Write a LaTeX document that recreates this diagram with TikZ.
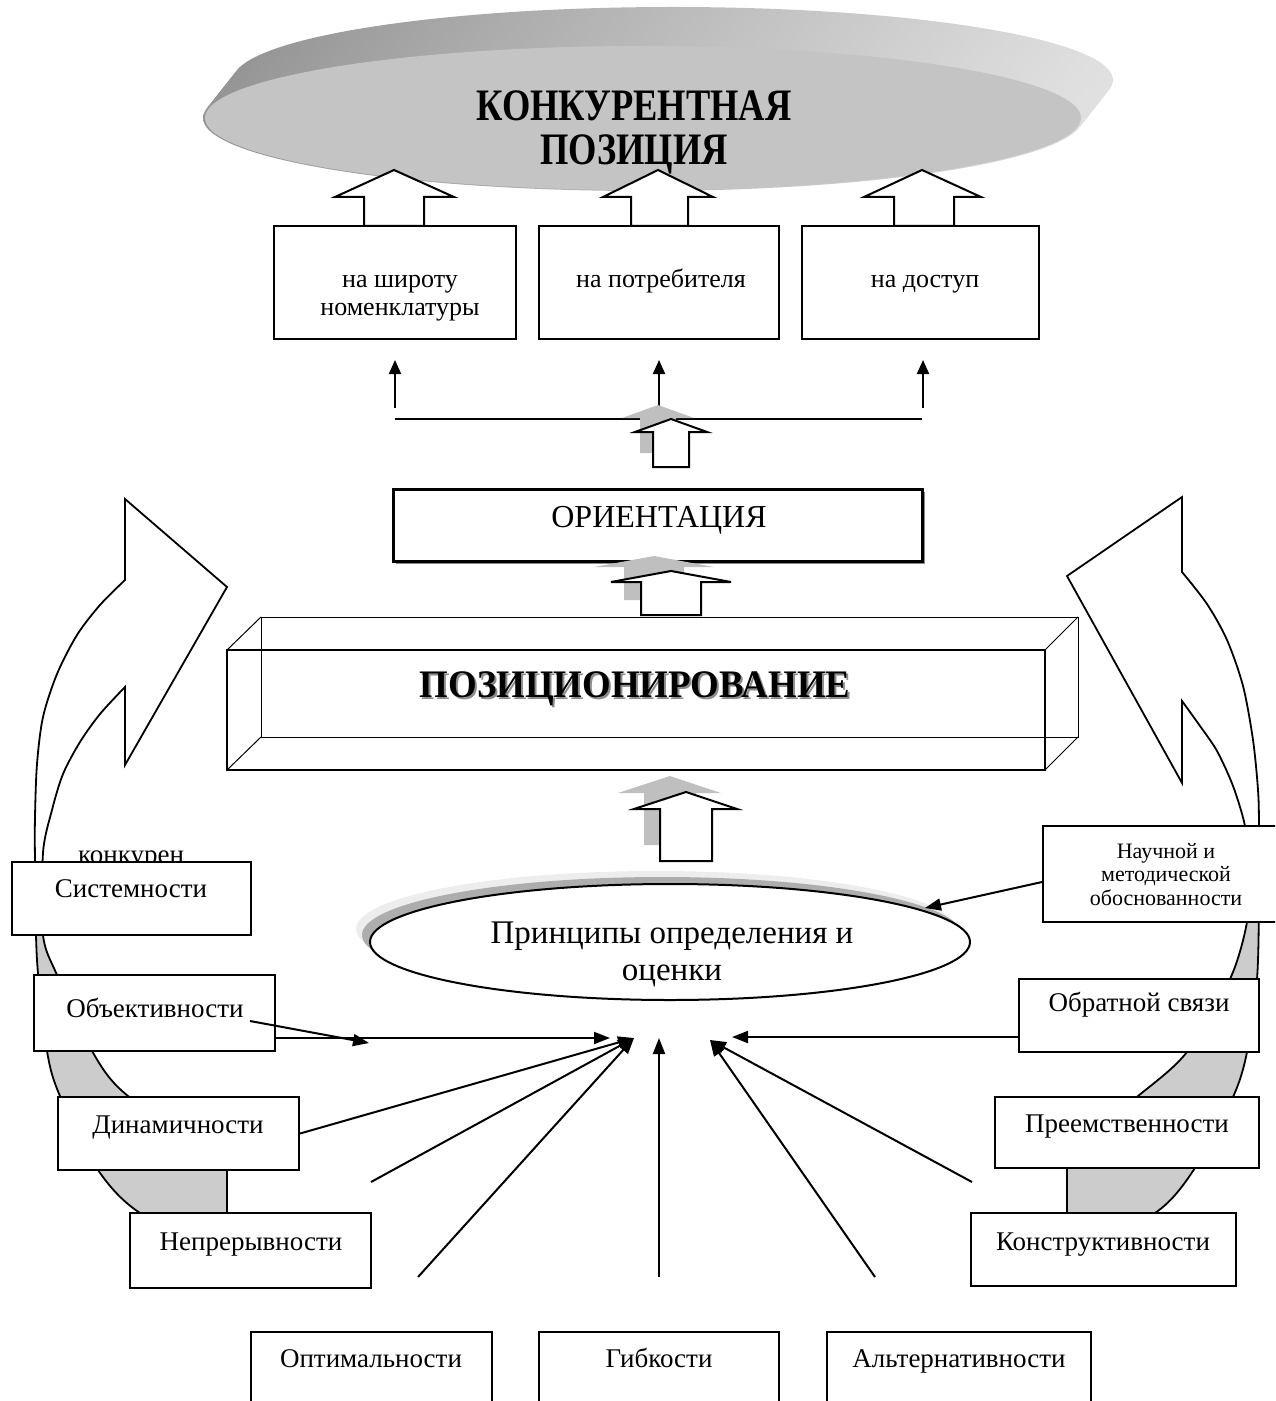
\documentclass[tikz,border=0pt]{standalone}
\usepackage{fontspec}
\setmainfont{Liberation Serif}
\newfontfamily\titlefont[FakeStretch=0.81]{Liberation Serif}
\newfontfamily\posfont[FakeStretch=0.945]{Liberation Serif}
\usetikzlibrary{arrows.meta,shapes.geometric}

\begin{document}
\begin{tikzpicture}[x=0.5pt,y=-0.5pt,
	pbox/.style={draw,fill=white,line width=1pt,inner sep=0pt},
	txt/.style={anchor=base,inner sep=0pt,font=\fontsize{13.5}{16}\selectfont},
	toptxt/.style={anchor=base,inner sep=0pt,font=\fontsize{13}{15}\selectfont},
	small/.style={anchor=base,inner sep=0pt,font=\fontsize{11}{13}\selectfont},
	conn/.style={line width=1pt,-{Triangle[length=8pt,width=6pt]}},
	upconn/.style={line width=1pt,-{Triangle[length=7pt,width=6pt]}},
	blockarr/.style={draw,fill=white,line width=1pt},
	shadowarr/.style={fill=black!25},
	band/.style={draw,line width=0.9pt}]
	\useasboundingbox (0,0) rectangle (1275,1401);
	\clip (0,0) rectangle (1275,1401);

	%disc
	\foreach \k in {0,...,20}
	  \shade[left color=black!42, right color=black!12] ({673-1.5*\k},{80+1.9*\k}) ellipse [x radius=220pt, y radius=36.5pt]; %rim
	\fill[black!23] (643,118) ellipse [x radius=219pt, y radius=36pt]; %face
	\node[anchor=base,inner sep=0pt,font=\titlefont\bfseries\fontsize{22.5}{26}\selectfont] (ttl-a) at (634,121) {КОНКУРЕНТНАЯ};
	\node[anchor=base,inner sep=0pt,font=\titlefont\bfseries\fontsize{22.5}{26}\selectfont] (ttl-b) at (634,165) {ПОЗИЦИЯ};

	%block arrows into the disc
	\draw[blockarr] (364,226) -- (364,197) -- (335,197) -- (394,170) -- (454,197) -- (424,197) -- (424,226) -- cycle; %left
	\draw[blockarr] (631,226) -- (631,197) -- (603,197) -- (658,170) -- (713,197) -- (688,197) -- (688,226) -- cycle; %middle
	\draw[blockarr] (894,226) -- (894,197) -- (864,197) -- (922,170) -- (981,197) -- (954,197) -- (954,226) -- cycle; %right

	%orientation boxes
	\node[pbox, minimum width=121pt, minimum height=56.5pt] (shir) at (395,282.5) {};
	\node[toptxt] (shir-a) at (400,288) {на широту};
	\node[toptxt] (shir-b) at (400,316) {номенклатуры};
	\node[pbox, minimum width=120pt, minimum height=56.5pt] (potr) at (659,282.5) {};
	\node[toptxt] (potr-a) at (661,288) {на потребителя};
	\node[pbox, minimum width=118.5pt, minimum height=56.5pt] (dost) at (920.5,282.5) {};
	\node[toptxt] (dost-a) at (925,288) {на доступ};

	%distribution line
	\coordinate (rowL) at (395,419);
	\coordinate (rowR) at (922,419);
	\draw[line width=1pt] (rowL) -- (rowR);
	\foreach \x/\n in {395/shir,659/potr,923/dost}{
	  \coordinate (\n-lo) at (\x,408);
	  \coordinate (\n-hi) at (\x,360);
	  \draw[upconn] (\n-lo) -- (\n-hi);
	}

	%arrow a
	\fill[shadowarr, shift={(-13,-14)}] (653,467) -- (653,432) -- (635,432) -- (671,419) -- (707,432) -- (689,432) -- (689,467) -- cycle;
	\draw[blockarr] (653,467) -- (653,432) -- (635,432) -- (671,419) -- (707,432) -- (689,432) -- (689,467) -- cycle;

	%orientation
	\fill[black!45] (396,492) rectangle (925,564); %shadow
	\node[pbox, line width=1.5pt, minimum width=264.5pt, minimum height=36pt] (orient) at (657.5,525) {};
	\node[anchor=base,inner sep=0pt,font=\fontsize{16}{19}\selectfont] (orient-t) at (659,527) {ОРИЕНТАЦИЯ};

	%arrow b
	\fill[shadowarr, shift={(-17,-15)}] (641,615) -- (641,582) -- (611,582) -- (671,571) -- (731,582) -- (701,582) -- (701,615) -- cycle;
	\draw[blockarr] (641,615) -- (641,582) -- (611,582) -- (671,571) -- (731,582) -- (701,582) -- (701,615) -- cycle;

	%curved arrows
	\def\leftband{plot[smooth] coordinates {(227,1255) (140,1213) (98,1170) (60,1096) (47,1051) (37,960) (35,860) (35,817) (37,764) (43,717) (57,674) (77,635) (100,605) (125,580)}
	  -- (125,499) -- (227,587) -- (125,765) -- (125,687)
	  -- plot[smooth] coordinates {(125,687) (100,714) (80,742) (63,774) (52,810) (43,853) (43,935) (57,975) (92,1051) (128,1096) (227,1160)} -- cycle}
	\def\rightband{plot[smooth] coordinates {(1067,1255) (1155,1213) (1195,1168) (1233,1097) (1247,1052) (1257,979) (1259,900) (1259,826) (1258,790) (1253,740) (1243,686) (1227,640) (1207,604) (1182,572)}
	  -- (1182,497) -- (1067,576) -- (1182,783) -- (1182,701)
	  -- plot[smooth] coordinates {(1182,701) (1200,726) (1217,751) (1233,786) (1245,826) (1250,870) (1247,922) (1230,979) (1187,1052) (1138,1096) (1067,1150)} -- cycle}
	\fill[white] \leftband;
	\begin{scope}
	  \clip (0,900) rectangle (300,1300);
	  \fill[black!20] \leftband;
	\end{scope}
	\draw[band] \leftband;
	\fill[white] \rightband;
	\begin{scope}
	  \clip (1000,870) rectangle (1275,1300);
	  \fill[black!20] \rightband;
	\end{scope}
	\draw[band] \rightband;

	%cube
	\draw[line width=0.5pt] (261,617) rectangle (1078,737); %back
	\draw[line width=0.5pt] (227,650) -- (261,617) (1045,650) -- (1078,617)
	  (1045,770) -- (1078,737) (227,770) -- (261,737);
	\draw[line width=0.7pt] (227,650) rectangle (1045,770); %front
	\node[anchor=base,inner sep=0pt,text=black!45,font=\posfont\bfseries\fontsize{19.5}{23}\selectfont] (pos-s) at (637,699) {ПОЗИЦИОНИРОВАНИЕ};
	\node[anchor=base,inner sep=0pt,font=\posfont\bfseries\fontsize{19.5}{23}\selectfont] (pos) at (635,697) {ПОЗИЦИОНИРОВАНИЕ};

	%arrow c
	\fill[shadowarr, shift={(-16,-16)}] (660,861) -- (660,809) -- (634,809) -- (686,792) -- (737,809) -- (712,809) -- (712,861) -- cycle;
	\draw[blockarr] (660,861) -- (660,809) -- (634,809) -- (686,792) -- (737,809) -- (712,809) -- (712,861) -- cycle;

	%principles
	\fill[black!7] (656,929) ellipse [x radius=150pt, y radius=29pt];
	\fill[black!32] (662,935) ellipse [x radius=150pt, y radius=29pt];
	\node[draw, fill=white, line width=1pt, ellipse, inner sep=0pt, minimum width=300pt, minimum height=58pt] (princ) at (670,942) {};
	\node[anchor=base,inner sep=0pt,font=\fontsize{16.5}{19}\selectfont] (princ-a) at (672,943) {Принципы определения и};
	\node[anchor=base,inner sep=0pt,font=\fontsize{16.5}{19}\selectfont] (princ-b) at (672,980) {оценки};

	%left boxes
	\node[txt] (konk) at (131,863) {конкурен};
	\node[pbox, minimum width=119.5pt, minimum height=36.5pt] (sys) at (131.5,898.5) {};
	\node[txt] (sys-t) at (131,897) {Системности};
	\node[pbox, minimum width=120.5pt, minimum height=38pt] (obj) at (154.5,1013) {};
	\node[txt] (obj-t) at (155,1017) {Объективности};
	\node[pbox, minimum width=120.5pt, minimum height=36.5pt] (din) at (178.5,1133.5) {};
	\node[txt] (din-t) at (178,1133) {Динамичности};
	\node[pbox, minimum width=120.5pt, minimum height=37.5pt] (nep) at (250.5,1250.5) {};
	\node[txt] (nep-t) at (251,1250) {Непрерывности};

	%bottom boxes
	\node[pbox, minimum width=120.5pt, minimum height=49pt] (opt) at (371.5,1381) {};
	\node[txt] (opt-t) at (371,1367) {Оптимальности};
	\node[pbox, minimum width=120pt, minimum height=49pt] (gib) at (659,1381) {};
	\node[txt] (gib-t) at (659,1367) {Гибкости};
	\node[pbox, minimum width=132pt, minimum height=49pt] (alt) at (959,1381) {};
	\node[txt] (alt-t) at (959,1367) {Альтернативности};

	%right boxes
	\node[pbox, minimum width=123.5pt, minimum height=48pt] (nauch) at (1166.5,874) {};
	\node[small] (nauch-a) at (1166,858) {Научной и};
	\node[small] (nauch-b) at (1166,881) {методической};
	\node[small] (nauch-c) at (1166,905) {обоснованности};
	\node[pbox, minimum width=120pt, minimum height=36.5pt] (obr) at (1139,1015.5) {};
	\node[txt] (obr-t) at (1139,1011) {Обратной связи};
	\node[pbox, minimum width=132pt, minimum height=35.5pt] (preem) at (1127,1132.5) {};
	\node[txt] (preem-t) at (1127,1132) {Преемственности};
	\node[pbox, minimum width=132.5pt, minimum height=36.5pt] (konstr) at (1103.5,1249.5) {};
	\node[txt] (konstr-t) at (1103,1250) {Конструктивности};

	%connectors
	\coordinate (hubL) at (634,1038);
	\coordinate (hubC) at (659,1038);
	\coordinate (hubR) at (710,1040);
	\coordinate (objA) at (250,1021);
	\coordinate (objT) at (369,1043);
	\coordinate (objH) at (610,1038);
	\coordinate (nepA) at (371,1182);
	\coordinate (optA) at (418,1277);
	\coordinate (gibA) at (659,1277);
	\coordinate (altA) at (875,1277);
	\coordinate (konA) at (972,1182);
	\coordinate (obrT) at (732,1037);
	\coordinate (nauT) at (925,908);
	\draw[conn] (objA) -- (objT);
	\draw[conn] (obj.east |- objH) -- (objH);
	\draw[conn] (din.east) -- (hubL);
	\draw[conn] (nepA) -- (hubL);
	\draw[conn] (optA) -- (hubL);
	\draw[conn] (gibA) -- (hubC);
	\draw[conn] (altA) -- (hubR);
	\draw[conn] (konA) -- (hubR);
	\draw[conn] (obr.west |- obrT) -- (obrT);
	\draw[conn] ([yshift=-4pt]nauch.west) -- (nauT);
\end{tikzpicture}
\end{document}
